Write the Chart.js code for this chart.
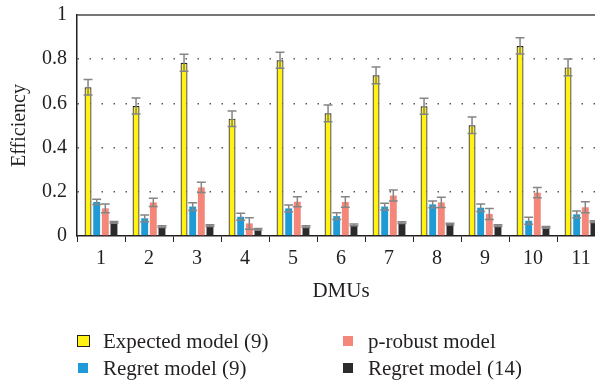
<!DOCTYPE html>
<html>
<head>
<meta charset="utf-8">
<script src="https://cdn.jsdelivr.net/npm/chart.js@4/dist/chart.umd.min.js"></script>
<style>
  html, body { margin: 0; padding: 0; background: #fff; overflow: hidden; }
  #wrap { position: relative; width: 620px; height: 381px; }
  #legend { position: absolute; left: 0; top: 0; width: 595px; height: 381px; pointer-events: none;
            font-family: "Liberation Serif", "Times New Roman", serif; font-size: 21px; color: #231f20; }
  .item { position: absolute; height: 24px; line-height: 24px; white-space: nowrap; }
  .swatch { position: absolute; box-sizing: border-box; }
  .text { position: absolute; top: 0; }
</style>
</head>
<body>
<div id="wrap">
  <canvas id="chart"></canvas>
  <div id="legend"></div>
</div>
<script>
// ─── Data ───────────────────────────────────────────────────────────────────
const DMUS = ['1', '2', '3', '4', '5', '6', '7', '8', '9', '10', '11'];

const SERIES_LABELS = ['Expected model (9)', 'Regret model (9)', 'p-robust model', 'Regret model (14)'];

const EXPECTED      = [0.673, 0.588, 0.784, 0.531, 0.795, 0.555, 0.727, 0.587, 0.501, 0.860, 0.763];
const REGRET_9      = [0.154, 0.080, 0.133, 0.087, 0.125, 0.090, 0.133, 0.143, 0.128, 0.069, 0.098];
const P_ROBUST      = [0.125, 0.152, 0.220, 0.057, 0.155, 0.154, 0.183, 0.152, 0.100, 0.196, 0.130];
const REGRET_14     = [0.062, 0.042, 0.047, 0.030, 0.042, 0.050, 0.060, 0.054, 0.047, 0.039, 0.065];

// half-width of the error bars
const EXPECTED_ERR  = [0.035, 0.036, 0.038, 0.035, 0.036, 0.038, 0.038, 0.036, 0.037, 0.037, 0.038];
const REGRET_9_ERR  = [0.012, 0.015, 0.018, 0.016, 0.015, 0.015, 0.015, 0.015, 0.017, 0.016, 0.015];
const P_ROBUST_ERR  = [0.020, 0.019, 0.023, 0.026, 0.023, 0.024, 0.025, 0.023, 0.025, 0.023, 0.025];
const REGRET_14_ERR = [0.004, 0.004, 0.004, 0.004, 0.004, 0.004, 0.004, 0.004, 0.004, 0.004, 0.004];

const Y_TICKS = ['0', '0.2', '0.4', '0.6', '0.8', '1'];

// ─── Styling ────────────────────────────────────────────────────────────────
const COLORS  = ['#fff214', '#1e9bd7', '#f4877a', '#2b2b2b'];
const BORDERS = ['#231f20', 'rgba(0,0,0,0)', 'rgba(0,0,0,0)', 'rgba(0,0,0,0)'];
const SERIF   = '"Liberation Serif", "Times New Roman", serif';
const INK     = '#231f20';

const seriesValues = [EXPECTED, REGRET_9, P_ROBUST, REGRET_14];
const seriesErrors = [EXPECTED_ERR, REGRET_9_ERR, P_ROBUST_ERR, REGRET_14_ERR];

// Error bars + solid top frame line, drawn through the chart's own scales.
const errorBarPlugin = {
  id: 'errorBars',
  afterDatasetsDraw(chart) {
    const { ctx, chartArea } = chart;
    const y = chart.scales.y;
    ctx.save();
    // top frame line at y = 1
    ctx.strokeStyle = '#4a4a4a';
    ctx.lineWidth = 1.5;
    ctx.beginPath();
    ctx.moveTo(chartArea.left, y.getPixelForValue(1));
    ctx.lineTo(chartArea.right, y.getPixelForValue(1));
    ctx.stroke();

    ctx.strokeStyle = '#858585';
    ctx.lineWidth = 1.5;
    chart.data.datasets.forEach((ds, di) => {
      const meta = chart.getDatasetMeta(di);
      meta.data.forEach((bar, i) => {
        const v = ds.data[i];
        const e = seriesErrors[di][i];
        const yHi = y.getPixelForValue(v + e);
        const yLo = y.getPixelForValue(v - e);
        const half = bar.width / 2 + 1;
        ctx.beginPath();
        ctx.moveTo(bar.x, yHi); ctx.lineTo(bar.x, yLo);
        ctx.moveTo(bar.x - half, yHi); ctx.lineTo(bar.x + half, yHi);
        ctx.moveTo(bar.x - half, yLo); ctx.lineTo(bar.x + half, yLo);
        ctx.stroke();
      });
    });
    ctx.restore();
  },
};

const chart = new Chart(document.getElementById('chart'), {
  type: 'bar',
  data: {
    labels: DMUS,
    datasets: SERIES_LABELS.map((label, i) => ({
      label,
      data: seriesValues[i],
      backgroundColor: COLORS[i],
      borderColor: BORDERS[i],
      borderWidth: i === 0 ? 1.2 : 0,
      categoryPercentage: 0.72,
      barPercentage: 0.8,
    })),
  },
  options: {
    responsive: true,
    maintainAspectRatio: false,
    animation: false,
    devicePixelRatio: 1,
    layout: { padding: { top: 15, right: 15, bottom: 75, left: 0 } },
    plugins: { legend: { display: false }, tooltip: { enabled: false } },
    scales: {
      x: {
        offset: true,
        grid: { offset: true, drawOnChartArea: false, drawTicks: true, tickLength: 6, color: INK, tickColor: INK },
        border: { display: true, color: INK, width: 1.5 },
        ticks: { color: INK, padding: 5, font: { family: SERIF, size: 20, lineHeight: 1.2 } },
        title: { display: true, text: 'DMUs', color: INK, padding: { top: 0, bottom: 2 },
                 font: { family: SERIF, size: 21, lineHeight: 1.2 } },
        afterFit(scale) { scale.height = 70; },
      },
      y: {
        min: 0,
        max: 1,
        grid: {
          drawTicks: false,
          lineWidth: 1.5,
          color: (c) => (c.tick && c.tick.value > 0.01 && c.tick.value < 0.99 ? '#5a5a5a' : 'rgba(0,0,0,0)'),
        },
        border: { display: true, color: INK, width: 1.5, dash: [1.5, 10.5] },
        ticks: {
          stepSize: 0.2,
          padding: 10,
          color: INK,
          font: { family: SERIF, size: 20, lineHeight: 0.5 },
          callback: (v, i) => Y_TICKS[i],
        },
        title: { display: true, text: 'Efficiency', color: INK, padding: { top: 8 },
                 font: { family: SERIF, size: 20, lineHeight: 1.2 } },
        afterFit(scale) {
          scale.width = 77;
          scale.paddingTop = 0;
          scale.paddingBottom = 0;
        },
      },
    },
  },
  plugins: [errorBarPlugin],
});

// ─── Legend (two columns, built from the dataset list) ──────────────────────
const LEGEND_ORDER = [0, 2, 1, 3]; // row-major: Expected, p-robust / Regret(9), Regret(14)
const legendEl = document.getElementById('legend');
LEGEND_ORDER.forEach((di, k) => {
  const col = k % 2, row = Math.floor(k / 2);
  const item = document.createElement('div');
  item.className = 'item';
  item.style.left = (col === 0 ? 77 : 342) + 'px';
  item.style.top = (row === 0 ? 329 : 356) + 'px';
  const sw = document.createElement('div');
  sw.className = 'swatch';
  sw.style.background = COLORS[di];
  if (di === 0) {
    Object.assign(sw.style, { left: '0px', top: '6px', width: '13px', height: '12px', border: '1.5px solid #231f20' });
  } else {
    Object.assign(sw.style, { left: '1px', top: '7px', width: '10px', height: '10px' });
  }
  const tx = document.createElement('span');
  tx.className = 'text';
  tx.style.left = '26px';
  tx.textContent = chart.data.datasets[di].label;
  item.appendChild(sw);
  item.appendChild(tx);
  legendEl.appendChild(item);
});
</script>
</body>
</html>
